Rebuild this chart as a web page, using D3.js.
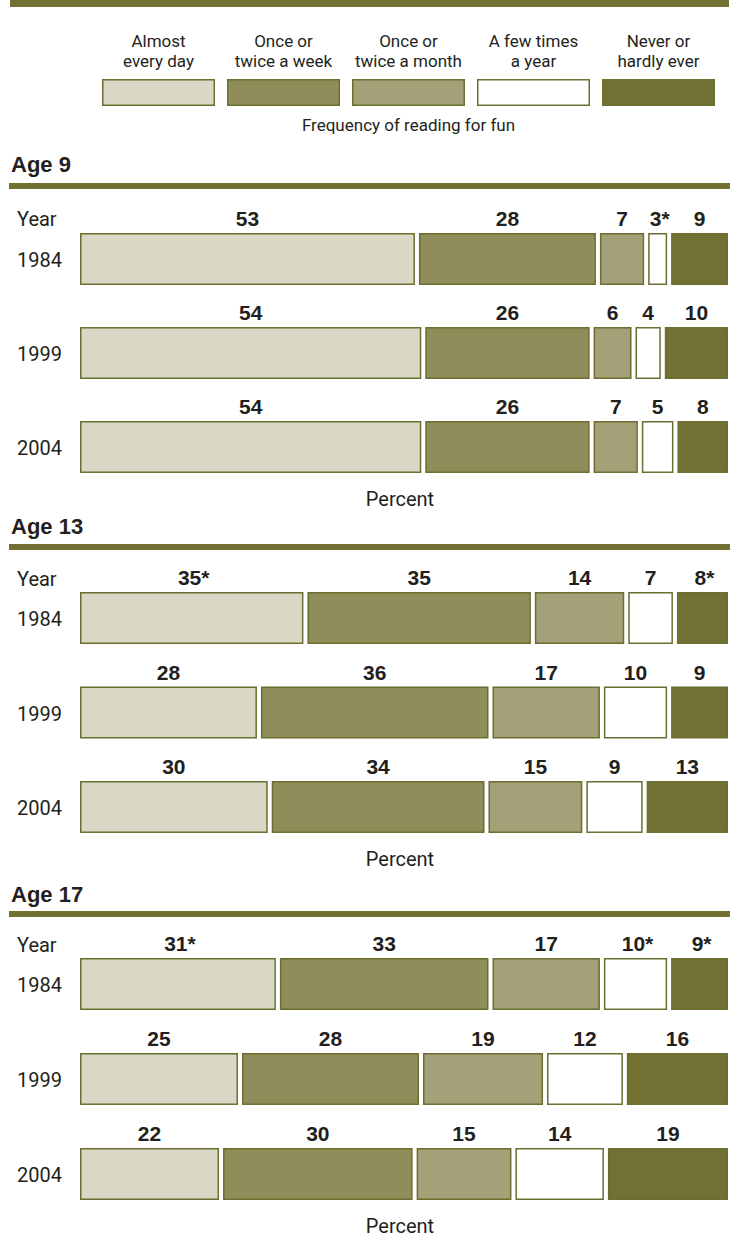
<!DOCTYPE html>
<html>
<head>
<meta charset="utf-8">
<script src="https://cdn.jsdelivr.net/npm/d3@7"></script>
<style>
  html, body { margin: 0; padding: 0; background: #fff; }
  svg { display: block; }
</style>
</head>
<body>
<svg id="chart" width="737" height="1239"></svg>
<script>
// ---------- data ----------
const categories = ["Almost every day", "Once or twice a week", "Once or twice a month", "A few times a year", "Never or hardly ever"];
const legendLines = [["Almost", "every day"], ["Once or", "twice a week"], ["Once or", "twice a month"], ["A few times", "a year"], ["Never or", "hardly ever"]];
const legendTitle = "Frequency of reading for fun";
const ageGroups = ["Age 9", "Age 13", "Age 17"];
const years = ["1984", "1999", "2004"];
const age9Values  = [[53, 28, 7, 3, 9], [54, 26, 6, 4, 10], [54, 26, 7, 5, 8]];
const age9Sig     = [[0, 0, 0, 1, 0], [0, 0, 0, 0, 0], [0, 0, 0, 0, 0]];
const age13Values = [[35, 35, 14, 7, 8], [28, 36, 17, 10, 9], [30, 34, 15, 9, 13]];
const age13Sig    = [[1, 0, 0, 0, 1], [0, 0, 0, 0, 0], [0, 0, 0, 0, 0]];
const age17Values = [[31, 33, 17, 10, 9], [25, 28, 19, 12, 16], [22, 30, 15, 14, 19]];
const age17Sig    = [[1, 0, 0, 1, 1], [0, 0, 0, 0, 0], [0, 0, 0, 0, 0]];
const axisLabel = "Percent";
const yearHeader = "Year";

// ---------- style / layout ----------
const colors = ["#d9d8c6", "#8f8d5a", "#a4a179", "#ffffff", "#707133"];
const strokeColor = "#6c6e2f";
const ruleColor = "#707133";
const textColor = "#231f20";
const regFont = "Roboto, 'Liberation Sans', sans-serif";
const boldFont = "'Liberation Sans', Arial, sans-serif";

const svg = d3.select("#chart");

// top rule
svg.append("rect").attr("x", 10).attr("y", 0).attr("width", 719).attr("height", 7).attr("fill", ruleColor);

// legend
const legendX = d3.scaleBand().domain(categories).range([102, 715]).paddingInner(0.096).paddingOuter(0);
const lg = svg.append("g");
categories.forEach((c, i) => {
  const x0 = legendX(c), w = legendX.bandwidth();
  lg.append("rect").attr("x", x0 + 0.75).attr("y", 79.75).attr("width", w - 1.5).attr("height", 25.5)
    .attr("fill", colors[i]).attr("stroke", strokeColor).attr("stroke-width", 1.5);
  const t = lg.append("text").attr("text-anchor", "middle").attr("font-family", regFont)
    .attr("font-size", 17).attr("fill", textColor);
  legendLines[i].forEach((ln, j) => {
    t.append("tspan").attr("x", x0 + w / 2).attr("y", 47 + j * 20).text(ln);
  });
});
lg.append("text").attr("x", 408.5).attr("y", 131).attr("text-anchor", "middle")
  .attr("font-family", regFont).attr("font-size", 17).attr("fill", textColor).text(legendTitle);

// sections
const sections = [
  { name: ageGroups[0], values: age9Values,  sig: age9Sig,  titleY: 172, ruleY: 183, yearY: 226, barTop: 233, pitch: 94,   pctY: 506 },
  { name: ageGroups[1], values: age13Values, sig: age13Sig, titleY: 534, ruleY: 544, yearY: 586, barTop: 592, pitch: 94.5, pctY: 866 },
  { name: ageGroups[2], values: age17Values, sig: age17Sig, titleY: 902, ruleY: 911, yearY: 952, barTop: 958, pitch: 95,   pctY: 1233 }
];

const barLeft = 80, barRight = 728, gap = 4, barH = 52;

sections.forEach(sec => {
  const g = svg.append("g");
  g.append("text").attr("x", 11).attr("y", sec.titleY).attr("font-family", boldFont).attr("font-weight", "bold")
    .attr("font-size", 22).attr("fill", textColor).text(sec.name);
  g.append("rect").attr("x", 9).attr("y", sec.ruleY).attr("width", 721).attr("height", 6).attr("fill", ruleColor);
  g.append("text").attr("x", 17).attr("y", sec.yearY).attr("font-family", regFont)
    .attr("font-size", 20).attr("fill", textColor).text(yearHeader);

  const y = d3.scalePoint().domain(years).range([sec.barTop, sec.barTop + 2 * sec.pitch]);

  years.forEach((yr, r) => {
    const vals = sec.values[r];
    const total = d3.sum(vals);
    const x = d3.scaleLinear().domain([0, total]).range([0, (barRight - barLeft) - gap * (vals.length - 1)]);
    const cum = d3.cumsum(vals);
    const top = y(yr);
    g.append("text").attr("x", 17).attr("y", top + barH / 2 + 8).attr("font-family", regFont)
      .attr("font-size", 20).attr("fill", textColor).text(yr);
    vals.forEach((v, k) => {
      const start = k === 0 ? 0 : cum[k - 1];
      const x0 = barLeft + x(start) + gap * k;
      const w = x(v);
      g.append("rect").attr("x", x0 + 0.75).attr("y", top + 0.75).attr("width", Math.max(0, w - 1.5)).attr("height", barH - 1.5)
        .attr("fill", colors[k]).attr("stroke", strokeColor).attr("stroke-width", 1.5);
      const label = v + (sec.sig[r][k] ? "*" : "");
      g.append("text").attr("x", x0 + w / 2 + (sec.sig[r][k] ? 2 : 0)).attr("y", top - 7).attr("text-anchor", "middle")
        .attr("font-family", boldFont).attr("font-weight", "bold").attr("font-size", 21)
        .attr("fill", textColor).text(label);
    });
  });

  g.append("text").attr("x", 400).attr("y", sec.pctY).attr("text-anchor", "middle").attr("font-family", regFont)
    .attr("font-size", 20).attr("fill", textColor).text(axisLabel);
});
</script>
</body>
</html>
